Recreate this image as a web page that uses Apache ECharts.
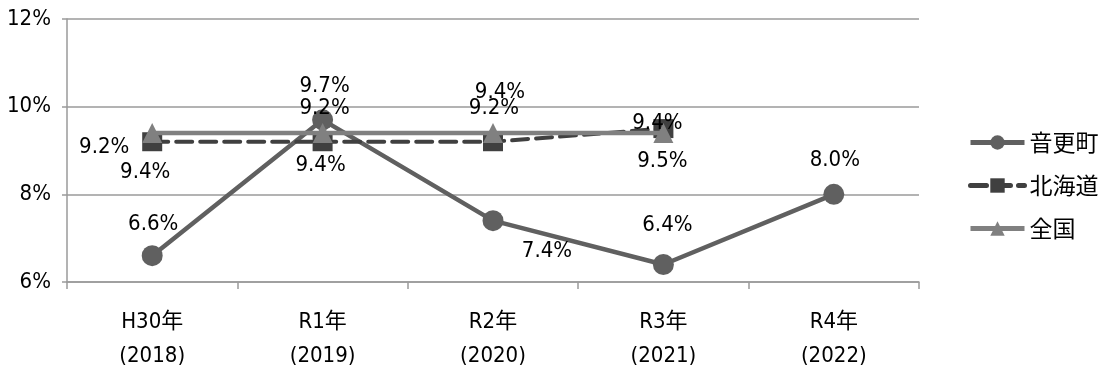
<!DOCTYPE html>
<html><head><meta charset="utf-8">
<script src="https://cdn.jsdelivr.net/npm/echarts@6/dist/echarts.min.js"></script>
<style>html,body{margin:0;padding:0;background:#fff}#c{width:1103px;height:370px}</style>
</head><body><div id="c"></div>
<script>
const categories = ['H30年\n(2018)','R1年\n(2019)','R2年\n(2020)','R3年\n(2021)','R4年\n(2022)'];
const seriesNames = ['音更町','北海道','全国'];
const otofuke = [6.6, 9.7, 7.4, 6.4, 8.0];
const hokkaido = [9.2, 9.2, 9.2, 9.5, null];
const zenkoku = [9.4, 9.4, 9.4, 9.4, null];
const yTicks = [6, 8, 10, 12];
// label offsets (placement only)
const offOtofuke = [[1,-31],[2,-34],[54,31],[4,-39],[1,-34]];
const offHokkaido = [[-48,6],[2,-33],[1,-33],[-1,33],[0,0]];
const offZenkoku = [[-7,39],[-2,32],[7,-41],[-6,-10],[0,0]];

const FONT = '"DejaVu Sans Condensed","Noto Sans CJK JP",sans-serif';
const CJK = '"Noto Sans CJK JP",sans-serif';
function mk(vals, offs){
  return vals.map((v,i)=> v==null? null : {value:v, label:{offset:offs[i]}});
}
const labelBase = {show:true, position:'inside', color:'#000', fontFamily:FONT, fontSize:22,
  formatter: p => p.value.toFixed(1)+'%'};
const chart = echarts.init(document.getElementById('c'), null, {renderer:'canvas'});
chart.setOption({
  animation:false,
  grid:{left:67, right:184, top:19, bottom:88, containLabel:false, outerBoundsMode:'none'},
  legend:{orient:'vertical', left:963, top:126, itemWidth:54, itemHeight:18, itemGap:20,
    lineStyle:{width:5},
    textStyle:{fontFamily:CJK, fontSize:23, color:'#000'},
    data:seriesNames},
  xAxis:{type:'category', data:categories, boundaryGap:true,
    axisLine:{lineStyle:{color:'#9a9a9a', width:1.5}},
    axisTick:{show:true, length:7, lineStyle:{color:'#9a9a9a', width:1.5}},
    axisLabel:{color:'#000', fontFamily:FONT, fontSize:22, lineHeight:34, margin:23}},
  yAxis:{type:'value', min:6, max:12, interval:2,
    axisLine:{show:true, lineStyle:{color:'#9a9a9a', width:1.5}},
    axisTick:{show:true, length:5, lineStyle:{color:'#9a9a9a', width:1.5}},
    splitLine:{lineStyle:{color:'#9a9a9a', width:1.5}},
    axisLabel:{color:'#000', fontFamily:FONT, fontSize:22, margin:16, formatter: v => v+'%'}},
  series:[
    {name:seriesNames[0], type:'line', data:mk(otofuke, offOtofuke), symbol:'circle', symbolSize:21,
      lineStyle:{color:'#606060', width:4.5}, itemStyle:{color:'#606060'}, label:labelBase, z:2},
    {name:seriesNames[1], type:'line', data:mk(hokkaido, offHokkaido), symbol:'rect', symbolSize:[20,19],
      lineStyle:{color:'#404040', width:4, type:[16,8], cap:'round'}, itemStyle:{color:'#404040'}, label:labelBase, z:3},
    {name:seriesNames[2], type:'line', data:mk(zenkoku, offZenkoku), symbol:'triangle', symbolSize:20,
      lineStyle:{color:'#808080', width:4.5}, itemStyle:{color:'#808080'}, label:labelBase, z:4}
  ]
});
</script></body></html>
